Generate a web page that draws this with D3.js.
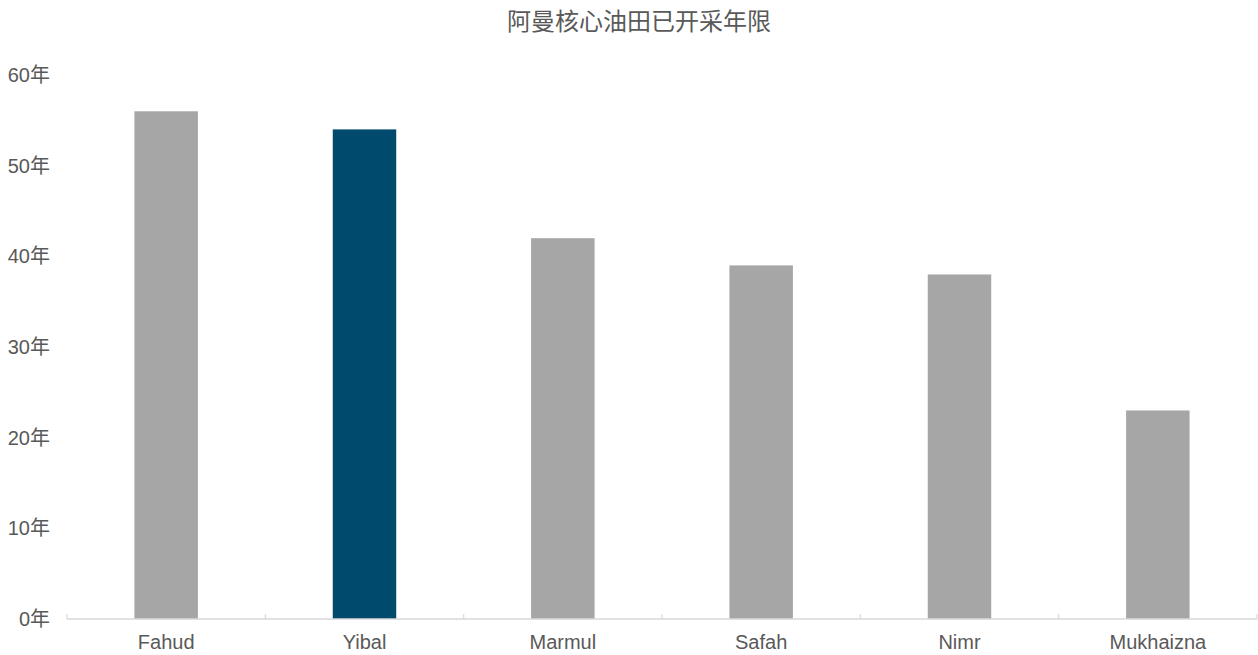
<!DOCTYPE html>
<html>
<head>
<meta charset="utf-8">
<script src="https://cdn.jsdelivr.net/npm/d3@7"></script>
<style>
	body { margin: 0; background: #fff; }
	text { font-family: Arial, "Liberation Sans", "Noto Sans CJK SC", sans-serif; }
</style>
</head>
<body>
<div id="chart"></div>
<script>
(function () {

	'use strict';

	// data
	let fields = ['Fahud', 'Yibal', 'Marmul', 'Safah', 'Nimr', 'Mukhaizna'];
	let years = [56, 54, 42, 39, 38, 23];
	let highlight = ['Yibal'];
	let yTicks = [0, 10, 20, 30, 40, 50, 60];

	let width = 1258, height = 655;
	let margin = {top: 75, right: 1, bottom: 36, left: 67};

	let svg = d3.select('#chart').append('svg')
		.attr('width', width)
		.attr('height', height);

	let x = d3.scaleBand()
		.domain(fields)
		.range([margin.left, width - margin.right]);

	let y = d3.scaleLinear()
		.domain([0, 60])
		.range([height - margin.bottom, margin.top]);

	// title
	svg.append('text')
		.attr('x', 639)
		.attr('y', 30)
		.attr('text-anchor', 'middle')
		.attr('fill', '#595959')
		.style('font-size', '24px')
		.text('阿曼核心油田已开采年限');

	// bars
	let barW = x.bandwidth() * 0.32;
	svg.selectAll('rect.bar')
		.data(fields)
		.enter().append('rect')
		.attr('class', 'bar')
		.attr('x', function (d) { return x(d) + (x.bandwidth() - barW) / 2; })
		.attr('y', function (d, i) { return y(years[i]); })
		.attr('width', barW)
		.attr('height', function (d, i) { return y(0) - y(years[i]); })
		.attr('fill', function (d) { return highlight.indexOf(d) >= 0 ? '#004a6e' : '#a6a6a6'; });

	// x axis
	let xAxis = svg.append('g')
		.attr('transform', 'translate(0,' + y(0) + ')');
	xAxis.append('line')
		.attr('x1', margin.left).attr('x2', width - margin.right)
		.attr('stroke', '#d9d9d9').attr('stroke-width', 1.5);
	let edges = fields.map(function (d) { return x(d); }).concat([x.range()[1]]);
	xAxis.selectAll('line.tick')
		.data(edges)
		.enter().append('line')
		.attr('class', 'tick')
		.attr('x1', function (d) { return d; })
		.attr('x2', function (d) { return d; })
		.attr('y1', -5).attr('y2', 0)
		.attr('stroke', '#d9d9d9').attr('stroke-width', 1.2);
	xAxis.selectAll('text')
		.data(fields)
		.enter().append('text')
		.attr('x', function (d) { return x(d) + x.bandwidth() / 2; })
		.attr('y', 30)
		.attr('text-anchor', 'middle')
		.attr('fill', '#595959')
		.style('font-size', '20px')
		.text(function (d) { return d; });

	// y labels
	svg.selectAll('text.ylab')
		.data(yTicks)
		.enter().append('text')
		.attr('class', 'ylab')
		.attr('x', 50)
		.attr('y', function (d) { return y(d); })
		.attr('dy', '0.35em')
		.attr('text-anchor', 'end')
		.attr('fill', '#595959')
		.style('font-size', '20px')
		.text(function (d) { return d + '年'; });

})();
</script>
</body>
</html>
